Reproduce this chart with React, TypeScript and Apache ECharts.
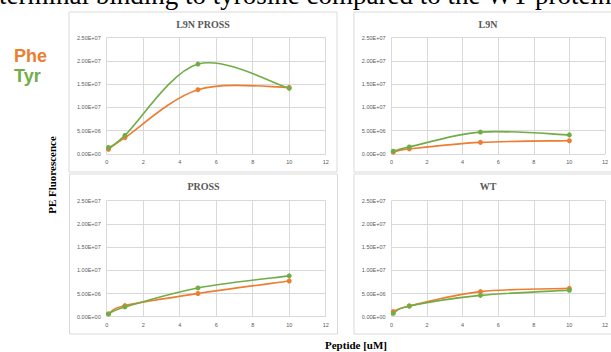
import React, { useEffect, useRef } from "react";
import * as echarts from "echarts";

const xValues = [0.1, 1, 5, 10];
const panelTitles = ["L9N PROSS", "L9N", "PROSS", "WT"];
const l9nProssPhe = [1.0e6, 3.5e6, 1.38e7, 1.43e7];
const l9nProssTyr = [1.4e6, 4.0e6, 1.93e7, 1.41e7];
const l9nPhe = [0.4e6, 1.1e6, 2.5e6, 2.85e6];
const l9nTyr = [0.6e6, 1.5e6, 4.7e6, 4.1e6];
const prossPhe = [0.6e6, 2.4e6, 5.0e6, 7.7e6];
const prossTyr = [0.6e6, 2.1e6, 6.2e6, 8.8e6];
const wtPhe = [1.1e6, 2.3e6, 5.4e6, 6.1e6];
const wtTyr = [0.7e6, 2.3e6, 4.6e6, 5.7e6];
const pheSeries = [l9nProssPhe, l9nPhe, prossPhe, wtPhe];
const tyrSeries = [l9nProssTyr, l9nTyr, prossTyr, wtTyr];

const PHE = "#ED7D31";
const TYR = "#70AD47";

function fmt(v: number): string {
  if (v === 0) return "0.00E+00";
  const e = Math.floor(Math.log10(v) + 1e-9);
  const m = v / Math.pow(10, e);
  return m.toFixed(2) + "E+" + String(e).padStart(2, "0");
}

const grids = [
  { left: 106.7, top: 37.5, width: 219, height: 116.5 },
  { left: 391.5, top: 37.5, width: 219, height: 116.5 },
  { left: 106.7, top: 200.7, width: 219, height: 116 },
  { left: 391.5, top: 200.7, width: 219, height: 116 },
];
const panels = [
  { x: 69, y: 12, w: 268, h: 160 },
  { x: 354, y: 12, w: 268, h: 160 },
  { x: 69.5, y: 174, w: 268, h: 160 },
  { x: 354, y: 174, w: 268, h: 160 },
];
const titleY = [24, 24, 186, 186];

function makeSmoothRenderer(color: string) {
  return (params: any, api: any) => {
    const n = params.dataInsideLength;
    const i = params.dataIndexInside;
    if (i >= n - 1) return { type: "group", children: [] };
    const pt = (k: number) => api.coord([api.value(0, k), api.value(1, k)]);
    const p0 = pt(Math.max(i - 1, 0));
    const p1 = pt(i);
    const p2 = pt(i + 1);
    const p3 = pt(Math.min(i + 2, n - 1));
    return {
      type: "bezierCurve",
      shape: {
        x1: p1[0],
        y1: p1[1],
        x2: p2[0],
        y2: p2[1],
        cpx1: p1[0] + (p2[0] - p0[0]) / 6,
        cpy1: p1[1] + (p2[1] - p0[1]) / 6,
        cpx2: p2[0] - (p3[0] - p1[0]) / 6,
        cpy2: p2[1] - (p3[1] - p1[1]) / 6,
      },
      style: { stroke: color, lineWidth: 1.6, fill: "none" },
    };
  };
}

export default function App() {
  const ref = useRef<HTMLDivElement>(null);
  useEffect(() => {
    if (!ref.current) return;
    const chart = echarts.init(ref.current, null, { renderer: "svg" });
    const graphics: any[] = [];
    panels.forEach((p, i) => {
      graphics.push({
        type: "rect",
        z: -10,
        shape: { x: p.x, y: p.y, width: p.w, height: p.h },
        style: { fill: "#fff", stroke: "#d9d9d9", lineWidth: 1 },
      });
      graphics.push({
        type: "text",
        x: p.x + p.w / 2,
        y: titleY[i],
        style: {
          text: panelTitles[i],
          fill: "#595959",
          font: "bold 10px 'Liberation Serif'",
          textAlign: "center",
          textVerticalAlign: "middle",
        },
      });
    });
    graphics.push({
      type: "text",
      x: -1,
      y: 8,
      style: {
        text: "terminal binding to tyrosine compared to the WT protein",
        fill: "#000",
        font: "27px 'Liberation Serif'",
        textAlign: "left",
        textVerticalAlign: "bottom",
      },
    });
    graphics.push({
      type: "text",
      x: 14,
      y: 56,
      style: { text: "Phe", fill: PHE, font: "bold 18px 'Liberation Sans'", textVerticalAlign: "middle" },
    });
    graphics.push({
      type: "text",
      x: 14,
      y: 76,
      style: { text: "Tyr", fill: TYR, font: "bold 18px 'Liberation Sans'", textVerticalAlign: "middle" },
    });
    graphics.push({
      type: "text",
      x: 52,
      y: 175,
      rotation: Math.PI / 2,
      style: {
        text: "PE Fluorescence",
        fill: "#000",
        font: "bold 11px 'Liberation Serif'",
        textAlign: "center",
        textVerticalAlign: "middle",
      },
    });
    graphics.push({
      type: "text",
      x: 356,
      y: 345,
      style: {
        text: "Peptide [uM]",
        fill: "#000",
        font: "bold 11px 'Liberation Serif'",
        textAlign: "center",
        textVerticalAlign: "middle",
      },
    });

    const xAxis = grids.map((_, i) => ({
      type: "value",
      gridIndex: i,
      min: 0,
      max: 12,
      interval: 2,
      axisLine: { show: true, lineStyle: { color: "#d9d9d9" } },
      axisTick: { show: false },
      splitLine: { show: true, lineStyle: { color: "#d9d9d9", width: 1 } },
      axisLabel: { color: "#595959", fontSize: 5.5, fontFamily: "Liberation Sans", margin: 5, showMaxLabel: true },
    }));
    const yAxis = grids.map((_, i) => ({
      type: "value",
      gridIndex: i,
      min: 0,
      max: 2.5e7,
      interval: 5e6,
      axisLine: { show: false },
      axisTick: { show: false },
      splitLine: { show: true, lineStyle: { color: "#d9d9d9", width: 1 } },
      axisLabel: {
        color: "#595959",
        fontSize: 5.5,
        fontFamily: "Liberation Sans",
        margin: 6,
        formatter: (v: number) => fmt(v),
      },
    }));
    const series: any[] = [];
    grids.forEach((_, i) => {
      [
        { name: "Phe", data: pheSeries[i], color: PHE },
        { name: "Tyr", data: tyrSeries[i], color: TYR },
      ].forEach((s) => {
        const pts = xValues.map((x, k) => [x, s.data[k]]);
        series.push({
          type: "custom",
          name: s.name,
          coordinateSystem: "cartesian2d",
          xAxisIndex: i,
          yAxisIndex: i,
          data: pts,
          encode: { x: 0, y: 1 },
          renderItem: makeSmoothRenderer(s.color),
          silent: true,
        });
        series.push({
          type: "scatter",
          name: s.name,
          xAxisIndex: i,
          yAxisIndex: i,
          data: pts,
          symbol: "circle",
          symbolSize: 5,
          itemStyle: { color: s.color, opacity: 1 },
        });
      });
    });

    chart.setOption({
      animation: false,
      backgroundColor: "#fff",
      grid: grids,
      xAxis,
      yAxis,
      series,
      graphic: graphics,
    });
    return () => chart.dispose();
  }, []);
  return (
    <div
      ref={ref}
      style={{ position: "fixed", left: 0, top: 0, width: 611, height: 352 }}
    />
  );
}
